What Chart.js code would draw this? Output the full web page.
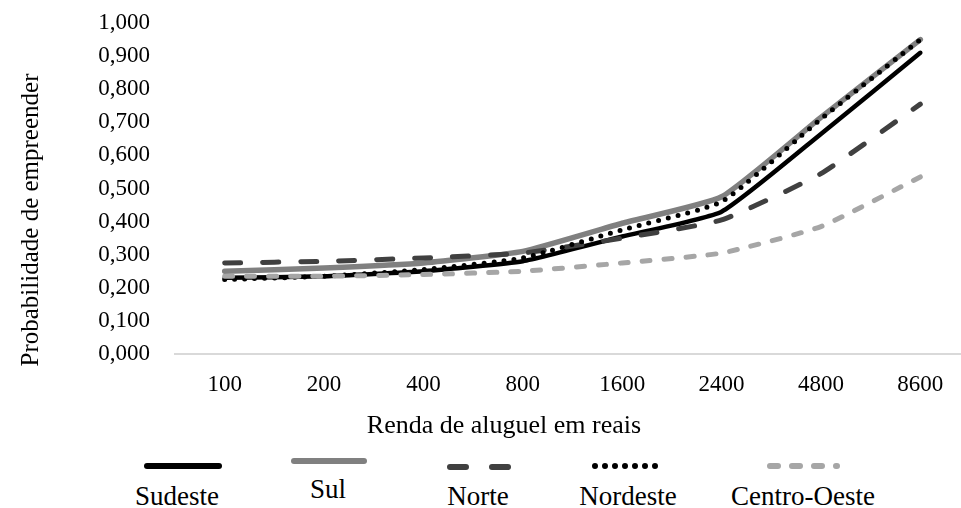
<!DOCTYPE html>
<html>
<head>
<meta charset="utf-8">
<script src="https://cdn.jsdelivr.net/npm/chart.js@4.4.1/dist/chart.umd.min.js"></script>
<style>
  html, body { margin:0; padding:0; background:#fff; width:961px; height:508px; overflow:hidden; }
  #wrap { position:absolute; left:0; top:0; width:975px; height:440px; }
  #legend { position:absolute; left:0; top:440px; width:961px; height:68px; font-family:"Liberation Serif", "Times New Roman", serif; font-size:27px; color:#000; }
  .lab { position:absolute; transform:translateX(-50%); white-space:nowrap; line-height:1; }
  svg.s { position:absolute; overflow:visible; }
</style>
</head>
<body>
<div id="wrap"><canvas id="c" width="975" height="440"></canvas></div>
<div id="legend"></div>
<script>
const categories = ["100", "200", "400", "800", "1600", "2400", "4800", "8600"];
const sudeste     = [0.230, 0.235, 0.250, 0.280, 0.355, 0.430, 0.665, 0.910];
const sul         = [0.250, 0.260, 0.275, 0.310, 0.395, 0.475, 0.715, 0.950];
const norte       = [0.275, 0.280, 0.290, 0.305, 0.350, 0.405, 0.545, 0.755];
const nordeste    = [0.225, 0.235, 0.255, 0.290, 0.375, 0.460, 0.710, 0.950];
const centroOeste = [0.235, 0.235, 0.240, 0.250, 0.275, 0.305, 0.385, 0.535];
const seriesNames = ["Sudeste", "Sul", "Norte", "Nordeste", "Centro-Oeste"];
const yTitle = "Probabilidade de empreender";
const xTitle = "Renda de aluguel em reais";

const FONT = '"Liberation Serif", "Times New Roman", serif';

const styles = [
  { color:"#000000", width:4.5, dash:[],       cap:"round" },
  { color:"#808080", width:5.5, dash:[],       cap:"round" },
  { color:"#404040", width:5,   dash:[16, 22], cap:"round" },
  { color:"#000000", width:5,   dash:[0, 10],  cap:"round" },
  { color:"#a6a6a6", width:5,   dash:[8, 14],  cap:"round" }
];
const values = [sudeste, sul, norte, nordeste, centroOeste];

const datasets = values.map((v, i) => ({
  label: seriesNames[i],
  data: v,
  borderColor: styles[i].color,
  backgroundColor: styles[i].color,
  borderWidth: styles[i].width,
  borderDash: styles[i].dash,
  borderCapStyle: styles[i].cap,
  borderJoinStyle: "round",
  pointRadius: 0,
  tension: 0.15,
  fill: false,
  order: 5 - i
}));

const titlesPlugin = {
  id: "axisTitles",
  afterDraw(chart) {
    const ctx = chart.ctx;
    ctx.save();
    ctx.fillStyle = "#000";
    ctx.textAlign = "center";
    ctx.textBaseline = "middle";
    ctx.font = "25px " + FONT;
    ctx.save();
    ctx.translate(31, 220);
    ctx.rotate(-Math.PI / 2);
    ctx.fillText(yTitle, 0, 0);
    ctx.restore();
    ctx.font = "26px " + FONT;
    ctx.fillText(xTitle, 504, 426);
    ctx.restore();
  }
};

new Chart(document.getElementById("c"), {
  type: "line",
  data: { labels: categories, datasets },
  plugins: [titlesPlugin],
  options: {
    responsive: false,
    devicePixelRatio: 1,
    animation: false,
    layout: { padding: { top: 23, right: 5, left: 0, bottom: 0 } },
    plugins: { legend: { display: false }, tooltip: { enabled: false }, title: { display: false } },
    scales: {
      x: {
        offset: true,
        grid: { display: false, drawTicks: false, tickLength: 0 },
        border: { display: true, color: "#d9d9d9", width: 2 },
        ticks: { color: "#000", font: { family: FONT, size: 23 }, padding: 17, maxRotation: 0, autoSkip: false },
        title: { display: false, text: xTitle },
        afterFit(s) { s.height = 86; }
      },
      y: {
        min: 0, max: 1,
        grid: { display: false, drawTicks: false, tickLength: 0 },
        border: { display: false },
        title: { display: false, text: yTitle },
        ticks: {
          stepSize: 0.1, color: "#000", font: { family: FONT, size: 23 }, padding: 25,
          callback: v => Number(v).toFixed(3).replace(".", ",")
        },
        afterFit(s) { s.width = 175; s.paddingTop = 0; s.paddingBottom = 0; }
      }
    }
  }
});

// Legend (Excel style: sample line above the label)
const legendItems = [
  { x1:147, x2:219, ly:26, tx:177, ty:57 },
  { x1:294, x2:364, ly:21, tx:328, ty:50 },
  { x1:450, x2:514, ly:27, tx:478, ty:57 },
  { x1:595, x2:664, ly:26, tx:628, ty:57 },
  { x1:770, x2:837, ly:26, tx:803, ty:57 }
];
const legendDash = [[], [], [16, 26], [0, 10], [8, 14]];
const lg = document.getElementById("legend");
legendItems.forEach((it, i) => {
  const st = styles[i];
  const svgNS = "http://www.w3.org/2000/svg";
  const svg = document.createElementNS(svgNS, "svg");
  svg.setAttribute("class", "s");
  svg.setAttribute("width", 961); svg.setAttribute("height", 68);
  svg.style.left = "0px"; svg.style.top = "0px";
  const ln = document.createElementNS(svgNS, "line");
  ln.setAttribute("x1", it.x1); ln.setAttribute("x2", it.x2);
  ln.setAttribute("y1", it.ly); ln.setAttribute("y2", it.ly);
  ln.setAttribute("stroke", st.color);
  ln.setAttribute("stroke-width", i === 0 || i === 1 ? 6 : st.width + 1);
  ln.setAttribute("stroke-linecap", "round");
  if (legendDash[i].length) ln.setAttribute("stroke-dasharray", legendDash[i].join(" "));
  svg.appendChild(ln);
  lg.appendChild(svg);
  const d = document.createElement("div");
  d.className = "lab";
  d.style.left = it.tx + "px";
  d.style.top = (it.ty - 14) + "px";
  d.textContent = seriesNames[i];
  lg.appendChild(d);
});
</script>
</body>
</html>
